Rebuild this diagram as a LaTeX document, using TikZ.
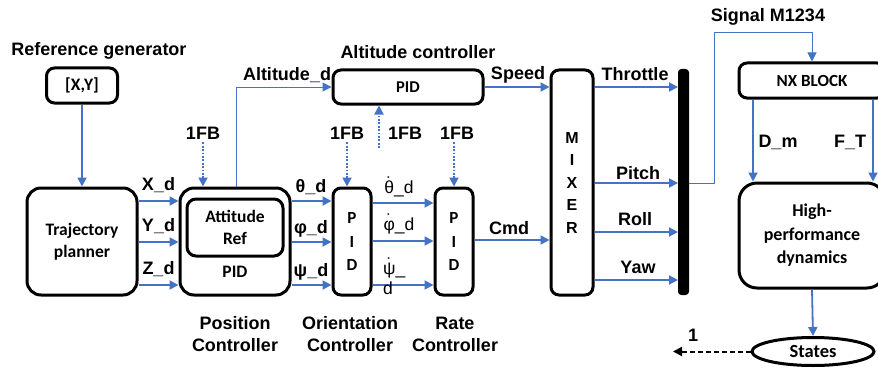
\documentclass[tikz,border=0pt]{standalone}
\usepackage{fontspec}
\setmainfont{Liberation Sans}
\newfontfamily\boxfont{Carlito}
\usetikzlibrary{arrows.meta,shapes.geometric,calc}
\definecolor{lineblue}{HTML}{4472C4}
\newcommand\topdot[1]{\ooalign{#1\cr\hidewidth\raisebox{0.26em}{˙}\hidewidth\cr}}
\tikzset{
  lbl/.style={font=\fontsize{18}{20}\selectfont\bfseries, inner sep=0pt},
  reg/.style={font=\fontsize{17.5}{19}\selectfont, inner sep=0pt},
  blk/.style={draw=black, line width=3pt, rounded corners=#1, inner sep=0pt,
     font=\boxfont\fontsize{17.5}{22}\selectfont\bfseries, align=center},
  blk/.default=8pt,
  arr/.style={draw=lineblue, line width=1.8pt, -{Triangle[length=9pt,width=9pt]}},
  thin/.style={draw=lineblue, line width=1pt},
  dotarr/.style={draw=lineblue, line width=1.8pt, dash pattern=on 1.8pt off 1.6pt, -{Triangle[length=9pt,width=9pt]}},
}
\begin{document}
\begin{tikzpicture}[x=1pt,y=-1pt]
\useasboundingbox (0,0) rectangle (878,369);
\clip (0,0) rectangle (878,369);
% titles
\node[lbl] (reftitle) at (99,51) {Reference generator};
\node[lbl] (alttitle) at (418,52) {Altitude controller};
\node[lbl] (sigtitle) at (768,17) {Signal M1234};
% blocks
\node[blk, minimum width=71pt, minimum height=35pt] (xy) at (82,85.5) {[X,Y]};
\node[blk=14pt, minimum width=110pt, minimum height=107pt] (traj) at (82,241.5) {Trajectory\\planner};
\node[blk=14pt, minimum width=110pt, minimum height=107pt] (pos) at (235,241.5) {};
\node[blk=9pt, minimum width=96pt, minimum height=57pt] (attref) at (235,227.5) {Attitude\\Ref};
\node[font=\boxfont\fontsize{17.5}{20}\selectfont\bfseries, inner sep=0pt] (pospid) at (235,272) {PID};
\node[blk, minimum width=150pt, minimum height=34pt, font=\boxfont\fontsize{16.5}{18}\selectfont\bfseries] (alt) at (408,87) {PID};
\node[blk, minimum width=38pt, minimum height=107pt, font=\boxfont\fontsize{17}{23.5}\selectfont\bfseries] (orient) at (352,241.5) {P\\I\\D};
\node[blk, minimum width=38pt, minimum height=107pt, font=\boxfont\fontsize{17}{23.5}\selectfont\bfseries] (rate) at (454,241.5) {P\\I\\D};
\node[blk, minimum width=42pt, minimum height=225pt, font=\fontsize{16}{22.5}\selectfont\bfseries] (mixer) at (572,182.5) {M\\I\\X\\E\\R};
\node[draw=black, fill=black, line width=1pt, rounded corners=3pt, minimum width=10pt, minimum height=225pt, inner sep=0pt] (bar) at (683.5,182) {};
\node[blk, minimum width=146pt, minimum height=35pt, font=\boxfont\fontsize{17}{18}\selectfont\bfseries] (nx) at (812,80.5) {NX BLOCK};
\node[blk=18pt, minimum width=146pt, minimum height=105pt, font=\boxfont\fontsize{18}{23.5}\selectfont\bfseries] (hpd) at (812,235.5) {High-\\performance\\dynamics};
\node[draw=black, line width=3pt, ellipse, minimum width=122pt, minimum height=28pt, inner sep=0pt, font=\boxfont\fontsize{18.5}{20}\selectfont\bfseries] (states) at (813,351.5) {States};
% bottom captions
\node[lbl, align=center, font=\fontsize{18}{22}\selectfont\bfseries] (poscap) at (235,334) {Position\\Controller};
\node[lbl, align=center, font=\fontsize{18}{22}\selectfont\bfseries] (oricap) at (350,334) {Orientation\\Controller};
\node[lbl, align=center, font=\fontsize{18}{22}\selectfont\bfseries] (ratecap) at (455,334) {Rate\\Controller};
% 1FB labels
\node[lbl] (fb1) at (203,133) {1FB};
\node[lbl] (fb2) at (347,133) {1FB};
\node[lbl] (fb3) at (405,133) {1FB};
\node[lbl] (fb4) at (457,133) {1FB};
% connectors
\draw[arr] (xy.south) -- (traj.north);
\draw[arr] (traj.east |- 0,201) -- (pos.west |- 0,201) node[lbl, midway, above=7pt] (xd) {X\_d};
\draw[arr] (traj.east |- 0,242) -- (pos.west |- 0,242) node[lbl, midway, above=7pt] (yd) {Y\_d};
\draw[arr] (traj.east |- 0,285) -- (pos.west |- 0,285) node[lbl, midway, above=7pt] (zd) {Z\_d};
\draw[thin, -{Triangle[length=9pt,width=9pt]}] (pos.north -| 236,0) -- (236,87) -- (alt.west);
\node[lbl] (altd) at (287,75) {Altitude\_d};
\draw[arr] (alt.east) -- (mixer.west |- alt.east);
\node[lbl] (speed) at (518,75) {Speed};
\draw[arr] (pos.east |- 0,201) -- (orient.west |- 0,201);
\draw[arr] (pos.east |- 0,242) -- (orient.west |- 0,242);
\draw[arr] (pos.east |- 0,285) -- (orient.west |- 0,285);
\node[lbl] (thd) at (311,187) {θ\_d};
\node[lbl] (phd) at (311,229) {φ\_d};
\node[lbl] (psd) at (311,272) {ψ\_d};
\draw[arr] (orient.east |- 0,203) -- (rate.west |- 0,203);
\draw[arr] (orient.east |- 0,241) -- (rate.west |- 0,241);
\draw[arr] (orient.east |- 0,285) -- (rate.west |- 0,285);
\node[reg] (thdot) at (399,189) {\topdot{θ}\_d};
\node[reg] (phdot) at (399,226) {\topdot{φ}\_d};
\node[reg, anchor=north west, align=left, font=\fontsize{17.5}{20}\selectfont] (psdot) at (383,263) {\topdot{ψ}\_\\d};
\draw[arr] (rate.east |- 0,240) -- (mixer.west |- 0,240);
\node[lbl] (cmd) at (509,228) {Cmd};
\draw[dotarr] (fb1.south) ++(0,3) -- (fb1.south |- pos.north);
\draw[dotarr] (fb2.south) ++(0,3) -- (fb2.south |- orient.north);
\draw[dotarr] (fb4.south) ++(-3,3) -- ($(fb4.south |- rate.north)+(-3,0)$);
\coordinate (altfb) at (379,148);
\draw[dotarr] (altfb) -- (alt.south -| altfb);
\draw[arr] (mixer.east |- 0,87) -- (bar.west |- 0,87);
\draw[arr] (mixer.east |- 0,183) -- (bar.west |- 0,183);
\draw[arr] (mixer.east |- 0,232) -- (bar.west |- 0,232);
\draw[arr] (mixer.east |- 0,280) -- (bar.west |- 0,280);
\node[lbl] (thr) at (635,74) {Throttle};
\node[lbl] (pitch) at (638,173) {Pitch};
\node[lbl] (roll) at (635,219) {Roll};
\node[lbl] (yaw) at (638,267) {Yaw};
\draw[thin, -{Triangle[length=9pt,width=9pt]}] (bar.east |- 0,183) -- (714,183) -- (714,33) -- (nx.north |- 0,33) -- (nx.north);
\draw[arr] (nx.south -| 753,0) -- (hpd.north -| 753,0);
\draw[arr] (nx.south -| 873,0) -- (hpd.north -| 873,0);
\node[lbl] (dm) at (778,142) {D\_m};
\node[lbl] (ft) at (850,142) {F\_T};
\draw[arr] (hpd.south) -- (states.north);
\coordinate (out1) at (673,351.5);
\draw[draw=black, line width=2pt, dash pattern=on 5pt off 3pt, -{Triangle[length=9pt,width=9pt]}] (states.west) -- (out1);
\node[lbl] (one) at (693,335) {1};
\end{tikzpicture}
\end{document}
